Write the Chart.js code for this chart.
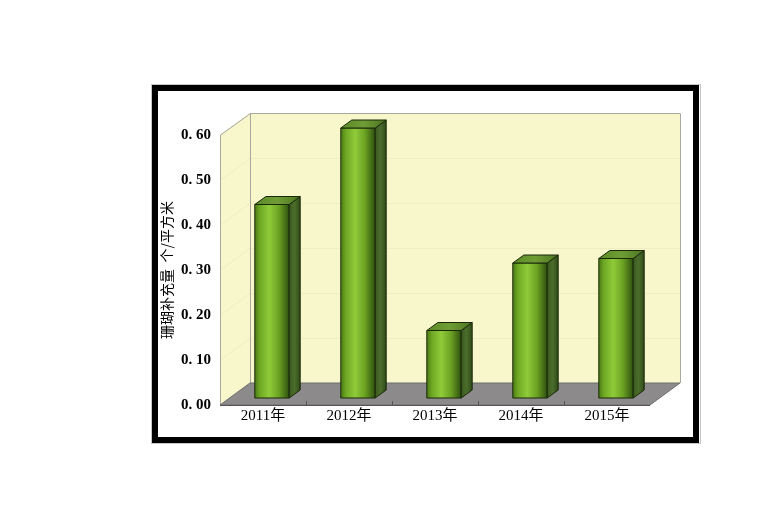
<!DOCTYPE html>
<html>
<head>
<meta charset="utf-8">
<script src="https://cdn.jsdelivr.net/npm/chart.js@4/dist/chart.umd.min.js"></script>
<style>
html,body{margin:0;padding:0;background:#fff;}
canvas{display:block;}
</style>
</head>
<body>
<canvas id="c" width="768" height="510"></canvas>
<script>
const categories = ['2011年', '2012年', '2013年', '2014年', '2015年'];
const recruitment = [0.43, 0.60, 0.15, 0.30, 0.31];
const yTicks = [0, 0.1, 0.2, 0.3, 0.4, 0.5, 0.6];
const yTitle = '珊瑚补充量  个/平方米';

// 3D geometry
const WALL_DX = 30, WALL_DY = -22;   // depth of the box
const BAR_OFF_X = 9, BAR_OFF_Y = -7; // bar front face position inside the depth
const BAR_DX = 11, BAR_DY = -8;      // bar depth

const box3d = {
  id: 'box3d',
  beforeDatasetsDraw(chart) {
    const ctx = chart.ctx;
    const {left: L, right: R, top: T, bottom: B} = chart.chartArea;
    const ys = chart.scales.y, xs = chart.scales.x;
    ctx.save();
    // left wall
    ctx.fillStyle = '#f8f6cb';
    ctx.beginPath();
    ctx.moveTo(L, T); ctx.lineTo(L + WALL_DX, T + WALL_DY);
    ctx.lineTo(L + WALL_DX, B + WALL_DY); ctx.lineTo(L, B); ctx.closePath();
    ctx.fill();
    // back wall
    ctx.beginPath();
    ctx.rect(L + WALL_DX, T + WALL_DY, R - L, B - T);
    ctx.fill();
    // gridlines
    ctx.strokeStyle = '#efedc2';
    ctx.lineWidth = 1;
    yTicks.forEach(v => {
      if (v === 0) return;
      const y = Math.round(ys.getPixelForValue(v)) + 0.5;
      ctx.beginPath();
      ctx.moveTo(L, y); ctx.lineTo(L + WALL_DX, y + WALL_DY);
      ctx.lineTo(R + WALL_DX, y + WALL_DY);
      ctx.stroke();
    });
    // wall edges
    ctx.strokeStyle = '#a8a8a0';
    ctx.beginPath();
    ctx.moveTo(L + 0.5, B); ctx.lineTo(L + 0.5, T); ctx.lineTo(L + WALL_DX + 0.5, T + WALL_DY + 0.5);
    ctx.lineTo(R + WALL_DX + 0.5, T + WALL_DY + 0.5); ctx.lineTo(R + WALL_DX + 0.5, B + WALL_DY);
    ctx.moveTo(L + WALL_DX + 0.5, T + WALL_DY); ctx.lineTo(L + WALL_DX + 0.5, B + WALL_DY);
    ctx.stroke();
    // floor
    ctx.fillStyle = '#8c8a8a';
    ctx.beginPath();
    ctx.moveTo(L, B); ctx.lineTo(R, B); ctx.lineTo(R + WALL_DX, B + WALL_DY);
    ctx.lineTo(L + WALL_DX, B + WALL_DY); ctx.closePath();
    ctx.fill();
    ctx.strokeStyle = '#6e6e6e';
    ctx.stroke();
    ctx.strokeStyle = '#555';
    ctx.beginPath();
    ctx.moveTo(L, B + 0.5); ctx.lineTo(R, B + 0.5);
    ctx.stroke();
    // category tick marks
    const n = categories.length;
    for (let i = 1; i < n; i++) {
      const x = Math.round((xs.getPixelForValue(i - 1) + xs.getPixelForValue(i)) / 2) + 0.5;
      ctx.beginPath(); ctx.moveTo(x, B - 4); ctx.lineTo(x, B); ctx.stroke();
    }
    ctx.restore();
  },
  afterDatasetsDraw(chart) {
    const ctx = chart.ctx;
    const meta = chart.getDatasetMeta(0);
    ctx.save();
    ctx.lineJoin = 'round';
    meta.data.forEach(el => {
      const p = el.getProps(['x', 'y', 'base', 'width'], true);
      const x0 = p.x - p.width / 2 + BAR_OFF_X, x1 = p.x + p.width / 2 + BAR_OFF_X;
      const yt = p.y + BAR_OFF_Y, yb = p.base + BAR_OFF_Y;
      // front face
      const g = ctx.createLinearGradient(x0, 0, x1, 0);
      g.addColorStop(0, '#4a7a14');
      g.addColorStop(0.15, '#6fa824');
      g.addColorStop(0.42, '#8fcb3a');
      g.addColorStop(0.7, '#6ca222');
      g.addColorStop(1, '#2d5010');
      ctx.fillStyle = g;
      ctx.strokeStyle = '#1a280a';
      ctx.lineWidth = 1;
      ctx.beginPath(); ctx.rect(x0, yt, x1 - x0, yb - yt); ctx.fill(); ctx.stroke();
      // side face
      const gs = ctx.createLinearGradient(x1, 0, x1 + BAR_DX, 0);
      gs.addColorStop(0, '#3b5a1e');
      gs.addColorStop(0.5, '#4b6d2c');
      gs.addColorStop(1, '#2f4a16');
      ctx.fillStyle = gs;
      ctx.beginPath();
      ctx.moveTo(x1, yt); ctx.lineTo(x1 + BAR_DX, yt + BAR_DY);
      ctx.lineTo(x1 + BAR_DX, yb + BAR_DY); ctx.lineTo(x1, yb); ctx.closePath();
      ctx.fill(); ctx.stroke();
      // top face
      const gt = ctx.createLinearGradient(x0, 0, x1 + BAR_DX, 0);
      gt.addColorStop(0, '#5b8a26');
      gt.addColorStop(0.5, '#6f9c35');
      gt.addColorStop(1, '#4c7420');
      ctx.fillStyle = gt;
      ctx.beginPath();
      ctx.moveTo(x0, yt); ctx.lineTo(x0 + BAR_DX, yt + BAR_DY);
      ctx.lineTo(x1 + BAR_DX, yt + BAR_DY); ctx.lineTo(x1, yt); ctx.closePath();
      ctx.fill(); ctx.stroke();
    });
    ctx.restore();
  },
  afterDraw(chart) {
    const ctx = chart.ctx;
    ctx.save();
    ctx.strokeStyle = '#c8c8c8';
    ctx.lineWidth = 1;
    ctx.strokeRect(151.5, 84.5, 549, 359);
    ctx.strokeStyle = '#000';
    ctx.lineWidth = 6;
    ctx.strokeRect(155, 88, 541, 352);
    ctx.restore();
  }
};

const bgPlugin = {
  id: 'bg',
  beforeDraw(chart) {
    const ctx = chart.ctx;
    ctx.save();
    ctx.fillStyle = '#fff';
    ctx.fillRect(0, 0, chart.width, chart.height);
    ctx.restore();
  }
};

new Chart(document.getElementById('c'), {
  type: 'bar',
  data: {
    labels: categories,
    datasets: [{
      data: recruitment,
      backgroundColor: 'rgba(0,0,0,0)',
      borderWidth: 0,
      barPercentage: 0.4,
      categoryPercentage: 1.0
    }]
  },
  options: {
    responsive: false,
    animation: false,
    devicePixelRatio: 1,
    layout: { padding: { left: 152, right: 118, top: 135, bottom: 0 } },
    plugins: { legend: { display: false }, tooltip: { enabled: false } },
    scales: {
      y: {
        min: 0, max: 0.6,
        afterBuildTicks(s) { s.ticks = yTicks.map(v => ({ value: v })); },
        afterFit(s) { s.width = 68; },
        grid: { display: false, drawTicks: false },
        border: { display: false },
        ticks: {
          padding: 9,
          color: '#000',
          font: { family: '"Liberation Serif", "DejaVu Serif", serif', size: 15, weight: 'bold' },
          callback: v => Number(v).toFixed(2).replace('.', '. ')
        },
        title: {
          display: true,
          text: yTitle,
          color: '#000',
          padding: { top: 6, bottom: 0 },
          font: { family: '"Noto Sans CJK SC", sans-serif', size: 14 }
        }
      },
      x: {
        afterFit(s) { s.height = 105; },
        grid: { display: false, drawTicks: false },
        border: { display: false },
        ticks: {
          padding: 2,
          color: '#000',
          maxRotation: 0,
          font: { family: '"Liberation Serif", "Noto Sans CJK SC", serif', size: 15 }
        }
      }
    }
  },
  plugins: [bgPlugin, box3d]
});
</script>
</body>
</html>
